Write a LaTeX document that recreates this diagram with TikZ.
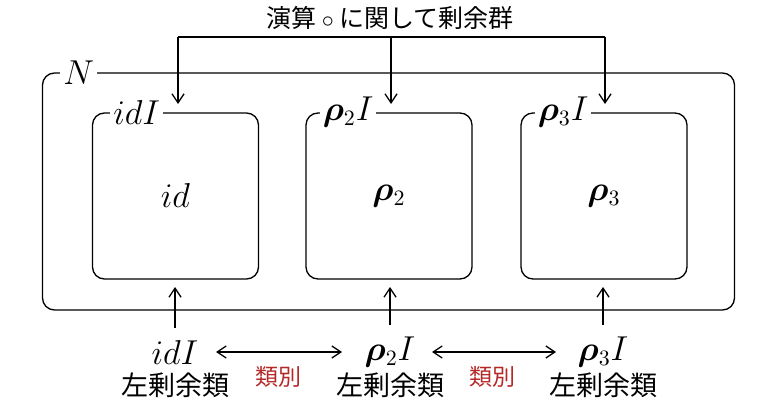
\documentclass[tikz,border=0pt]{standalone}
\usepackage{amsmath,amssymb,bm}
\usepackage{fontspec}
\newfontfamily\cjk{Noto Sans CJK JP}
\usetikzlibrary{arrows.meta}
\definecolor{redlbl}{RGB}{180,40,40}
\begin{document}
\begin{tikzpicture}[x=0.5pt,y=-0.5pt,
  every node/.style={font=\fontsize{16}{19}\selectfont},
  arr/.style={line width=0.65pt,-{Straight Barb[length=4.5pt,width=6pt]}},
  darr/.style={line width=0.65pt,{Straight Barb[length=4.5pt,width=6pt]}-{Straight Barb[length=4.5pt,width=6pt]}},
  inner/.style={draw,line width=0.65pt,rounded corners=6pt,minimum width=83pt,minimum height=83pt,inner sep=0pt},
  tag/.style={fill=white,inner sep=1.5pt,anchor=west},
  jp/.style={font=\cjk\fontsize{13.5}{15}\selectfont,inner sep=0pt},
  jptop/.style={font=\cjk\fontsize{12.5}{15}\selectfont,inner sep=0pt},
  jpred/.style={font=\cjk\fontsize{11.5}{14}\selectfont,text=redlbl,inner sep=0pt}]
\useasboundingbox (0,0) rectangle (780,405);
% outer box
\node[draw,line width=0.65pt,rounded corners=6pt,minimum width=346pt,minimum height=118.5pt,inner sep=0pt] (outer) at (388.5,191.5) {};
\node[tag] (Nlbl) at ([xshift=9pt]outer.north west) {$N$};
% inner boxes
\node[inner] (b1) at (175.5,196) {$id$};
\node[inner] (b2) at (389,196) {$\bm{\rho}_2$};
\node[inner] (b3) at (604,196) {$\bm{\rho}_3$};
\node[tag] (t1) at ([xshift=9pt]b1.north west) {$idI$};
\node[tag] (t2) at ([xshift=7pt]b2.north west) {$\bm{\rho}_2I$};
\node[tag] (t3) at ([xshift=7pt]b3.north west) {$\bm{\rho}_3I$};
% top label and connectors
\node[jptop] (top) at (390,18) {演算 $\circ$ に関して剰余群};
\coordinate (h1) at (178,37);
\coordinate (h2) at (391,37);
\coordinate (h3) at (605,37);
\coordinate (e1) at (178,104);
\coordinate (e2) at (391,104);
\coordinate (e3) at (605,104);
\draw[line width=0.65pt] (h1) -- (h3);
\draw[arr] (h1) -- (e1);
\draw[arr] (h2) -- (e2);
\draw[arr] (h3) -- (e3);
% bottom labels
\node (l1) at (175,352) {$idI$};
\node (l2) at (390,352) {$\bm{\rho}_2I$};
\node (l3) at (603,352) {$\bm{\rho}_3I$};
\node[jp] (c1) at (175,385) {左剰余類};
\node[jp] (c2) at (390,385) {左剰余類};
\node[jp] (c3) at (603,385) {左剰余類};
\node[jpred] (r1) at (278,377) {類別};
\node[jpred] (r2) at (492,377) {類別};
\coordinate (u1) at (175,287);
\coordinate (u2) at (390,287);
\coordinate (u3) at (603,287);
\draw[arr] (l1.north) ++(0,-5) coordinate (s1) (s1) -- (u1);
\draw[arr] (l2.north) ++(0,-5) coordinate (s2) (s2) -- (u2);
\draw[arr] (l3.north) ++(0,-5) coordinate (s3) (s3) -- (u3);
\draw[darr] ([xshift=20.5pt]l1.center) -- ([xshift=-24pt]l2.center);
\draw[darr] ([xshift=21pt]l2.center) -- ([xshift=-23.5pt]l3.center);
\end{tikzpicture}
\end{document}
